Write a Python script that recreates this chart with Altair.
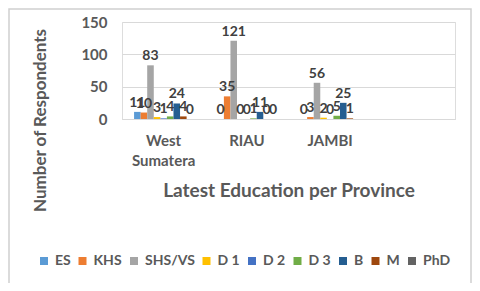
import altair as alt
import pandas as pd

provinces = ["West Sumatera", "RIAU", "JAMBI"]
series = ["ES", "KHS", "SHS/VS", "D 1", "D 2", "D 3", "B", "M", "PhD"]
colors = ["#5B9BD5", "#ED7D31", "#A5A5A5", "#FFC000", "#4472C4", "#70AD47", "#255E91", "#9E480E", "#636363"]
west = [11, 10, 83, 3, 1, 4, 24, 4, 0]
riau = [0, 35, 121, 0, 0, 1, 11, 0, 0]
jambi = [0, 3, 56, 2, 0, 5, 25, 1, None]
y_ticks = [0, 50, 100, 150]

rows = []
for prov, vals in zip(provinces, [west, riau, jambi]):
    for s, v in zip(series, vals):
        rows.append({"province": prov, "series": s, "value": v})
df = pd.DataFrame(rows)

x_domain = provinces + ["x4"]
FONT = "Lato"

x_enc = alt.X("province:N", scale=alt.Scale(domain=x_domain, paddingInner=0.29, paddingOuter=0.145),
              axis=alt.Axis(title="Latest Education per Province", labelAngle=0,
                            labelExpr="datum.label == 'x4' ? '' : split(datum.label, ' ')",
                            labelFont=FONT, labelFontSize=15, labelFontWeight="bold", labelColor="#595959",
                            labelPadding=14, labelLineHeight=20, ticks=False, domainColor="#D9D9D9",
                            titleFont=FONT, titleFontSize=19, titleFontWeight="bold", titleColor="#595959",
                            titleY=62, titleBaseline="top"))
xo_enc = alt.XOffset("series:N", scale=alt.Scale(domain=series, paddingInner=0, paddingOuter=0))
y_enc = alt.Y("value:Q", scale=alt.Scale(domain=[0, 150]),
              axis=alt.Axis(title="Number of Respondents", values=y_ticks, grid=True, gridColor="#D9D9D9",
                            domain=False, ticks=False, labelPadding=15,
                            labelFont=FONT, labelFontSize=15, labelFontWeight="bold", labelColor="#595959",
                            titleFont=FONT, titleFontSize=17, titleFontWeight="bold", titleColor="#595959",
                            titleAngle=-90, titleX=-82, titleY=98, titleAlign="center", titleBaseline="middle"))

bars = alt.Chart(df).mark_bar().encode(
    x=x_enc, xOffset=xo_enc, y=y_enc,
    color=alt.Color("series:N", scale=alt.Scale(domain=series, range=colors),
                    legend=alt.Legend(title=None, orient="none", direction="horizontal",
                                      legendX=-85, legendY=232, symbolType="square", symbolSize=64,
                                      symbolStrokeWidth=0, labelFont=FONT, labelFontSize=14,
                                      labelFontWeight="bold", labelColor="#595959", columnPadding=4.5,
                                      labelOffset=4)),
)
labels = alt.Chart(df).transform_filter("isValid(datum.value)").mark_text(
    baseline="bottom", dy=-2, font=FONT, fontSize=14, fontWeight="bold", color="#404040"
).encode(x=x_enc, xOffset=xo_enc, y=y_enc, text=alt.Text("value:Q"))

frame = alt.Chart(pd.DataFrame({"a": [0]})).mark_rect(
    fill=None, stroke="#D0D0D0", strokeWidth=1.5
).encode(x=alt.value(-113), x2=alt.value(349), y=alt.value(-13), y2=alt.value(262))

chart = (frame + bars + labels).properties(
    width=333, height=97,
    autosize=alt.AutoSizeParams(type="none"),
    padding={"left": 114, "top": 14, "right": 17, "bottom": 164},
).configure_view(stroke=None).configure(background="white")

chart.save("out.html", embed_options={"renderer": "svg", "actions": False})
